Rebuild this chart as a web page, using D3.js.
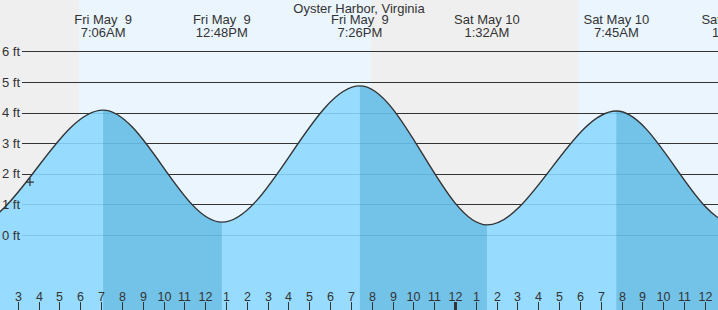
<!DOCTYPE html>
<html>
<head>
<meta charset="utf-8">
<script src="https://cdn.jsdelivr.net/npm/d3@7"></script>
<style>
  html, body { margin: 0; padding: 0; background: #fff; }
  svg { display: block; }
  text { font-family: "Liberation Sans", Arial, Helvetica, sans-serif; fill: #333; }
</style>
</head>
<body>
<div id="chart"></div>
<script>
// ---------- data ----------
const title = "Oyster Harbor, Virginia";
// tide extremes (first and last lie outside the visible window)
const tideTimes = [
  "2025-05-08T18:50", "2025-05-09T00:44", "2025-05-09T07:06", "2025-05-09T12:48",
  "2025-05-09T19:26", "2025-05-10T01:32", "2025-05-10T07:45", "2025-05-10T13:25",
  "2025-05-10T19:55"
];
const tideHeights = [4.6, 0.28, 4.08, 0.42, 4.87, 0.33, 4.05, 0.37, 4.7];
// daylight intervals (sunrise, sunset)
const sunrises = ["2025-05-09T05:56", "2025-05-10T05:55"];
const sunsets  = ["2025-05-09T19:58", "2025-05-10T20:00"];
// current time marker
const nowTime = "2025-05-09T03:35";
const nowHeight = 1.73;
// y ticks (feet)
const yTicks = [0, 1, 2, 3, 4, 5, 6];
const yTickLabels = ["0 ft", "1 ft", "2 ft", "3 ft", "4 ft", "5 ft", "6 ft"];
// time window
const windowStart = "2025-05-09T02:00";
const windowEnd = "2025-05-10T13:00";

// ---------- layout ----------
const W = 718, H = 310;
const pxPerHour = 20.82;
const midnightX = 455;
const parse = s => new Date(s);

const t0 = parse(windowStart), t1 = parse(windowEnd);
const midnight = parse("2025-05-10T00:00");
const hrs = d => (d - midnight) / 3600000;

const x = d3.scaleTime()
  .domain([t0, t1])
  .range([midnightX + hrs(t0) * pxPerHour, midnightX + hrs(t1) * pxPerHour]);
const y = d3.scaleLinear().domain([0, 6]).range([235, 51.3]);

const tides = tideTimes.map((t, i) => ({ t: parse(t), v: tideHeights[i] }));

const svg = d3.select("#chart").append("svg")
  .attr("width", W).attr("height", H);

// background: night
svg.append("rect").attr("x", 0).attr("y", 0).attr("width", W).attr("height", H)
  .attr("fill", "#efefef");
// daylight
sunrises.forEach((sr, i) => {
  const a = x(parse(sr)), b = x(parse(sunsets[i]));
  svg.append("rect").attr("x", a).attr("y", 0).attr("width", b - a).attr("height", H)
    .attr("fill", "#eaf5fe");
});

// grid lines (above water: dark)
const gridG = svg.append("g");
yTicks.forEach(v => {
  gridG.append("line")
    .attr("x1", 22).attr("x2", W)
    .attr("y1", Math.round(y(v)) + 0.5).attr("y2", Math.round(y(v)) + 0.5)
    .attr("stroke", "#333").attr("stroke-width", 1);
});

// area
const area = d3.area()
  .x(d => x(d.t)).y0(H).y1(d => y(d.v))
  .curve(d3.curveMonotoneX);
const line = d3.line()
  .x(d => x(d.t)).y(d => y(d.v))
  .curve(d3.curveMonotoneX);

const defs = svg.append("defs");
defs.append("clipPath").attr("id", "water")
  .append("path").attr("d", area(tides));

const water = svg.append("g").attr("clip-path", "url(#water)");
water.append("rect").attr("x", 0).attr("y", 0).attr("width", W).attr("height", H)
  .attr("fill", "#97dbfe");
// falling tide (high -> low) darker
for (let i = 0; i < tides.length - 1; i++) {
  if (tides[i].v > tides[i + 1].v) {
    const a = x(tides[i].t), b = x(tides[i + 1].t);
    water.append("rect").attr("x", a).attr("y", 0).attr("width", b - a).attr("height", H)
      .attr("fill", "#73c2e7");
  }
}
// grid lines seen through water
yTicks.forEach(v => {
  water.append("line")
    .attr("x1", 22).attr("x2", W)
    .attr("y1", Math.round(y(v)) + 0.5).attr("y2", Math.round(y(v)) + 0.5)
    .attr("stroke", "rgba(30,110,170,0.2)").attr("stroke-width", 1);
});

// curve outline
svg.append("path").attr("d", line(tides))
  .attr("fill", "none").attr("stroke", "#333").attr("stroke-width", 1.4);

// y labels
yTicks.forEach((v, i) => {
  svg.append("text")
    .attr("x", 20).attr("y", y(v)).attr("dy", "0.36em")
    .attr("text-anchor", "end").attr("font-size", 13)
    .text(yTickLabels[i]);
});

// current-time marker
const nx = x(parse(nowTime)), ny = y(nowHeight);
svg.append("path")
  .attr("d", `M${nx - 4},${ny}H${nx + 4}M${nx},${ny - 4}V${ny + 4}`)
  .attr("stroke", "#333").attr("stroke-width", 1.2).attr("fill", "none");

// top title
svg.append("text").attr("x", 359).attr("y", 12.5)
  .attr("text-anchor", "middle").attr("font-size", 13).text(title);

// tide time labels
const fmtDate = d3.timeFormat("%a %b %e");
const fmtTime = d3.timeFormat("%-I:%M%p");
tides.forEach(d => {
  const cx = x(d.t);
  if (cx < -80 || cx > W + 80) return;
  svg.append("text").attr("x", cx).attr("y", 24.3)
    .attr("text-anchor", "middle").attr("font-size", 13)
    .style("white-space", "pre").text(fmtDate(d.t));
  svg.append("text").attr("x", cx).attr("y", 36.6)
    .attr("text-anchor", "middle").attr("font-size", 13)
    .text(fmtTime(d.t));
});

// hour axis at bottom
const hours = d3.timeHour.range(t0, t1);
const fmtHour = d3.timeFormat("%-I");
hours.forEach(h => {
  const hx = Math.round(x(h));
  if (hx < 5 || hx > W + 10) return;
  const isMidnight = h.getHours() === 0;
  svg.append("line")
    .attr("x1", hx + 0.5).attr("x2", hx + 0.5)
    .attr("y1", 302).attr("y2", H)
    .attr("stroke", "#333").attr("stroke-width", isMidnight ? 3 : 1);
  svg.append("text").attr("x", hx + 0.5).attr("y", 300.5)
    .attr("text-anchor", "middle").attr("font-size", 12.5)
    .text(fmtHour(h));
});
</script>
</body>
</html>
